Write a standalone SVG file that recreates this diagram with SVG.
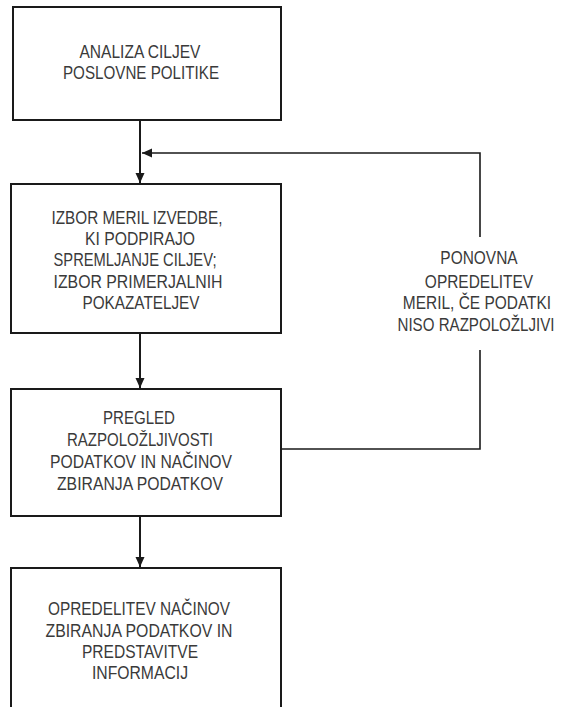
<svg xmlns="http://www.w3.org/2000/svg" width="561" height="707" viewBox="0 0 561 707">
<style>
.box{fill:#fff;stroke:#1a1a1a;stroke-width:2}
.t{font-family:"Liberation Sans",Arial,sans-serif;font-size:18px;fill:#3a3a3a;text-anchor:middle}
.c{fill:none;stroke:#1a1a1a;stroke-width:2}
.fb{fill:none;stroke:#1a1a1a;stroke-width:1.6}
</style>
<defs>
<marker id="ah" markerUnits="userSpaceOnUse" markerWidth="10" markerHeight="10" viewBox="0 0 10 10" refX="10" refY="5" orient="auto">
<path d="M0,0.5 L10,5 L0,9.5 Z" fill="#1a1a1a"/>
</marker>
</defs>
<rect width="561" height="707" fill="#fff"/>
<g id="connectors">
<path class="c" d="M140,120 V183" marker-end="url(#ah)"/>
<path class="c" d="M140,333 V388" marker-end="url(#ah)"/>
<path class="c" d="M140,516 V567" marker-end="url(#ah)"/>
<path class="fb" d="M281,449 H480 V350 M480,237 V153 H142" marker-end="url(#ah)"/>
<g id="feedback-label">
<text class="t" transform="translate(479,264) scale(0.86,1)">PONOVNA</text>
<text class="t" transform="translate(479,288) scale(0.86,1)">OPREDELITEV</text>
<text class="t" transform="translate(477,309) scale(0.86,1)">MERIL, ČE PODATKI</text>
<text class="t" transform="translate(476,331) scale(0.84,1)">NISO RAZPOLOŽLJIVI</text>
</g>
</g>
<g id="n1">
<rect class="box" x="13" y="7" width="268" height="113"/>
<text class="t" x="140" y="58" textLength="121" lengthAdjust="spacingAndGlyphs">ANALIZA CILJEV</text>
<text class="t" x="141" y="79" textLength="156" lengthAdjust="spacingAndGlyphs">POSLOVNE POLITIKE</text>
</g>
<g id="n2">
<rect class="box" x="11" y="184" width="270" height="149"/>
<text class="t" x="137" y="224" textLength="171" lengthAdjust="spacingAndGlyphs">IZBOR MERIL IZVEDBE,</text>
<text class="t" x="140" y="245" textLength="110" lengthAdjust="spacingAndGlyphs">KI PODPIRAJO</text>
<text class="t" x="135" y="266" textLength="163" lengthAdjust="spacingAndGlyphs">SPREMLJANJE CILJEV;</text>
<text class="t" x="138" y="288" textLength="169" lengthAdjust="spacingAndGlyphs">IZBOR PRIMERJALNIH</text>
<text class="t" x="141" y="309" textLength="117" lengthAdjust="spacingAndGlyphs">POKAZATELJEV</text>
</g>
<g id="n3">
<rect class="box" x="11" y="389" width="270" height="127"/>
<text class="t" x="139" y="424" textLength="72" lengthAdjust="spacingAndGlyphs">PREGLED</text>
<text class="t" x="140" y="446" textLength="146" lengthAdjust="spacingAndGlyphs">RAZPOLOŽLJIVOSTI</text>
<text class="t" x="141" y="468" textLength="182" lengthAdjust="spacingAndGlyphs">PODATKOV IN NAČINOV</text>
<text class="t" x="140" y="490" textLength="166" lengthAdjust="spacingAndGlyphs">ZBIRANJA PODATKOV</text>
</g>
<g id="n4">
<path class="box" d="M11,712 V568 H281 V712"/>
<text class="t" x="139" y="615" textLength="182" lengthAdjust="spacingAndGlyphs">OPREDELITEV NAČINOV</text>
<text class="t" x="139" y="637" textLength="187" lengthAdjust="spacingAndGlyphs">ZBIRANJA PODATKOV IN</text>
<text class="t" x="140" y="658" textLength="116" lengthAdjust="spacingAndGlyphs">PREDSTAVITVE</text>
<text class="t" x="140" y="679" textLength="96" lengthAdjust="spacingAndGlyphs">INFORMACIJ</text>
</g>
</svg>
